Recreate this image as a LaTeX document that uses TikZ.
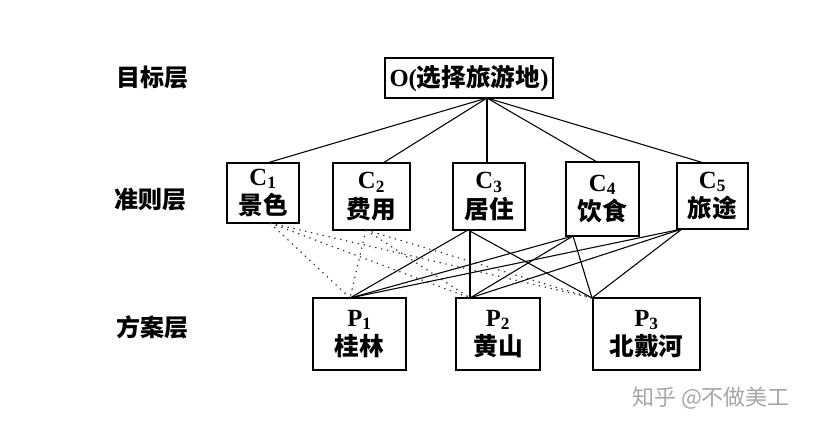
\documentclass[tikz,border=0pt]{standalone}
\usepackage{fontspec}
\setmainfont{Liberation Serif}
\newfontfamily\cjk{Noto Sans CJK SC}
\usetikzlibrary{calc}
\begin{document}
\begin{tikzpicture}[x=0.75pt,y=-0.75pt,
  box/.style={draw=black,line width=1.1pt,fill=white,inner sep=0pt,align=center,
    font=\fontsize{18.5}{22}\selectfont\bfseries},
  layer/.style={font=\fontsize{18}{20}\selectfont\cjk\bfseries},
  link/.style={draw=black,line width=0.8pt},
  thick link/.style={draw=black,line width=1.6pt},
  dot link/.style={draw=black!80,line width=0.9pt,dash pattern=on 1pt off 3.5pt},
  wmark/.style={font=\fontsize{16.5}{18}\selectfont\cjk,text=black!35}]
\useasboundingbox (0,0) rectangle (831,428);
% layer labels
\node[layer] (L1) at (152,78) {目标层};
\node[layer] (L2) at (150,200) {准则层};
\node[layer] (L3) at (152,327) {方案层};
% boxes
\node[box,minimum width=168*0.75pt,minimum height=40*0.75pt] (O) at (469,78)
  {O({\cjk 选择旅游地})};
\node[box,minimum width=72*0.75pt,minimum height=60*0.75pt] (C1) at (263,193)
  {C$_{\mathbf{1}}$\\{\cjk 景色}};
\node[box,minimum width=77*0.75pt,minimum height=67*0.75pt] (C2) at (371.5,196.5)
  {C$_{\mathbf{2}}$\\{\cjk 费用}};
\node[box,minimum width=72*0.75pt,minimum height=67*0.75pt] (C3) at (489,196.5)
  {C$_{\mathbf{3}}$\\{\cjk 居住}};
\node[box,minimum width=73*0.75pt,minimum height=74*0.75pt] (C4) at (602.5,199)
  {C$_{\mathbf{4}}$\\{\cjk 饮食}};
\node[box,minimum width=71*0.75pt,minimum height=66*0.75pt] (C5) at (712.5,196)
  {C$_{\mathbf{5}}$\\{\cjk 旅途}};
\node[box,minimum width=93*0.75pt,minimum height=72*0.75pt] (P1) at (359.5,334)
  {P$_{\mathbf{1}}$\\{\cjk 桂林}};
\node[box,minimum width=84*0.75pt,minimum height=72*0.75pt] (P2) at (498,334)
  {P$_{\mathbf{2}}$\\{\cjk 黄山}};
\node[box,minimum width=107*0.75pt,minimum height=72*0.75pt] (P3) at (646.5,334)
  {P$_{\mathbf{3}}$\\{\cjk 北戴河}};
% anchor points
\coordinate (o) at (487,98);
\coordinate (c1t) at (267,163);
\coordinate (c2t) at (383,163);
\coordinate (c3t) at (487,163);
\coordinate (c4t) at (597,162);
\coordinate (c5t) at (704,163);
\coordinate (c1b) at (270,223);
\coordinate (c2b) at (366,230);
\coordinate (c3b) at (468,230);
\coordinate (c3v) at (470,230);
\coordinate (c4b) at (573,236);
\coordinate (c5b) at (682,229);
\coordinate (p1) at (350,298);
\coordinate (p2) at (470,298);
\coordinate (p3) at (592,298);
% goal to criteria
\foreach \c in {c1t,c2t,c3t,c4t,c5t} \draw[link] (o) -- (\c);
% criteria to alternatives
\foreach \p in {p1,p2,p3} {
  \draw[dot link] (c1b) -- (\p);
  \draw[dot link] (c2b) -- (\p);
  \draw[link] (c4b) -- (\p);
  \draw[link] (c5b) -- (\p);
}
\draw[link] (c3b) -- (p1);
\draw[link] (c3b) -- (p3);
\draw[thick link] (c3v) -- (p2);
% watermark
\node[wmark] (W) at (711,398) {知乎 @不做美工};
\end{tikzpicture}
\end{document}
